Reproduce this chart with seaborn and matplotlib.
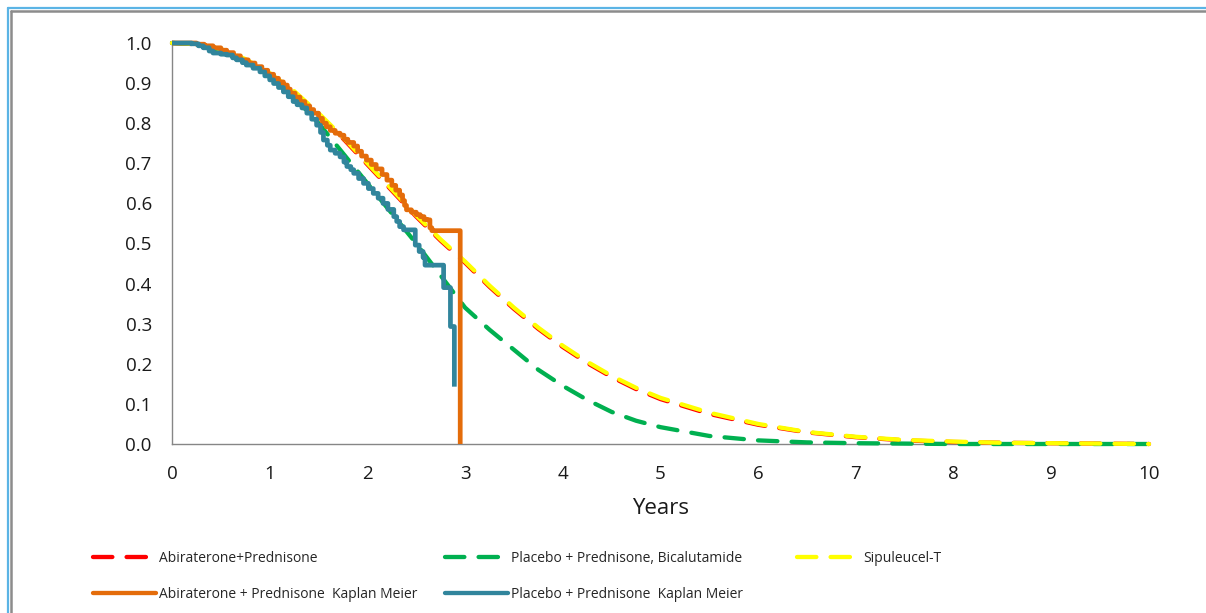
import numpy as np
import pandas as pd
import matplotlib
matplotlib.use("Agg")
import matplotlib.pyplot as plt
from matplotlib.lines import Line2D
import seaborn as sns

# ---------------- data ----------------
model_years = [0.0, 0.25, 0.5, 0.75, 1.0, 1.25, 1.5, 1.75, 2.0, 2.25, 2.5, 2.75,
               3.0, 3.25, 3.5, 3.75, 4.0, 4.25, 4.5, 4.75, 5.0, 5.5, 6.0, 6.5,
               7.0, 7.5, 8.0, 8.5, 9.0, 9.5, 10.0]
abi_model = [1.0, 0.997, 0.984, 0.958, 0.922, 0.877, 0.822, 0.762, 0.697, 0.632,
             0.567, 0.507, 0.452, 0.392, 0.337, 0.287, 0.242, 0.202, 0.167, 0.137,
             0.112, 0.075, 0.048, 0.029, 0.017, 0.009, 0.005, 0.003, 0.002, 0.001, 0.0]
placebo_model = [1.0, 0.997, 0.98, 0.955, 0.915, 0.865, 0.80, 0.725, 0.65, 0.575,
                 0.50, 0.42, 0.34, 0.285, 0.235, 0.185, 0.145, 0.11, 0.08, 0.058,
                 0.042, 0.02, 0.009, 0.004, 0.002, 0.001, 0.0, 0.0, 0.0, 0.0, 0.0]
sipuleucel_model = [1.0, 0.998, 0.985, 0.96, 0.925, 0.88, 0.825, 0.765, 0.70, 0.635,
                    0.57, 0.51, 0.455, 0.395, 0.34, 0.29, 0.245, 0.205, 0.17, 0.14,
                    0.115, 0.078, 0.05, 0.03, 0.018, 0.01, 0.006, 0.003, 0.002, 0.001, 0.0]

abi_km_years = [0.0, 0.25, 0.33, 0.42, 0.50, 0.56, 0.63, 0.70, 0.78, 0.85, 0.92, 0.98,
                1.04, 1.09, 1.14, 1.18, 1.21, 1.26, 1.31, 1.36, 1.41, 1.45, 1.50, 1.54,
                1.58, 1.62, 1.67, 1.72, 1.76, 1.80, 1.86, 1.90, 1.94, 1.99, 2.04, 2.09,
                2.15, 2.20, 2.25, 2.29, 2.33, 2.36, 2.38, 2.40, 2.45, 2.50, 2.54, 2.58,
                2.61, 2.64, 2.66, 2.95]
abi_km = [1.0, 0.997, 0.993, 0.988, 0.982, 0.976, 0.968, 0.958, 0.950, 0.941, 0.932,
          0.922, 0.912, 0.903, 0.895, 0.885, 0.875, 0.865, 0.854, 0.843, 0.834, 0.825,
          0.812, 0.800, 0.791, 0.782, 0.775, 0.770, 0.760, 0.752, 0.743, 0.730, 0.718,
          0.708, 0.697, 0.686, 0.672, 0.658, 0.645, 0.633, 0.621, 0.607, 0.595, 0.584,
          0.578, 0.572, 0.567, 0.560, 0.559, 0.539, 0.532, 0.0]

pla_km_years = [0.0, 0.20, 0.27, 0.32, 0.38, 0.42, 0.50, 0.56, 0.62, 0.66, 0.72, 0.76,
                0.83, 0.90, 0.95, 1.00, 1.04, 1.09, 1.14, 1.19, 1.24, 1.28, 1.33, 1.38,
                1.43, 1.48, 1.52, 1.55, 1.59, 1.62, 1.67, 1.72, 1.76, 1.79, 1.83, 1.86,
                1.91, 1.96, 2.01, 2.06, 2.11, 2.16, 2.21, 2.27, 2.30, 2.33, 2.37, 2.49,
                2.53, 2.57, 2.59, 2.78, 2.85, 2.89]
pla_km = [1.0, 0.998, 0.993, 0.988, 0.980, 0.975, 0.972, 0.970, 0.963, 0.958, 0.951,
          0.945, 0.937, 0.928, 0.918, 0.908, 0.899, 0.889, 0.878, 0.866, 0.854, 0.846,
          0.838, 0.825, 0.810, 0.795, 0.777, 0.758, 0.745, 0.733, 0.725, 0.716, 0.703,
          0.692, 0.684, 0.675, 0.662, 0.650, 0.637, 0.625, 0.613, 0.600, 0.585, 0.567,
          0.555, 0.542, 0.534, 0.496, 0.480, 0.465, 0.446, 0.390, 0.293, 0.143]

labels = ["Abiraterone+Prednisone", "Placebo + Prednisone, Bicalutamide", "Sipuleucel-T",
          "Abiraterone + Prednisone  Kaplan Meier", "Placebo + Prednisone  Kaplan Meier"]
x_ticks = list(range(0, 11))
y_ticks = [0.0, 0.1, 0.2, 0.3, 0.4, 0.5, 0.6, 0.7, 0.8, 0.9, 1.0]

# ---------------- style ----------------
sns.set_style("white")
plt.rcParams["font.family"] = ["Open Sans", "DejaVu Sans"]

RED, GREEN, YELLOW = "#FF0000", "#00B050", "#FFFF00"
ORANGE, TEAL = "#E46C0A", "#31859C"
GREY = "#868686"
DASH = (0, (4.5, 3.3))

W, H = 1206, 613
fig = plt.figure(figsize=(W / 100, H / 100), dpi=100)
fig.patch.set_facecolor("white")
ax = fig.add_axes([172 / W, 1 - 444 / H, (1149 - 172) / W, (444 - 43) / H])

model_df = pd.DataFrame({"years": model_years, "abi": abi_model,
                         "pla": placebo_model, "sip": sipuleucel_model})
abi_df = pd.DataFrame({"years": abi_km_years, "s": abi_km})
pla_df = pd.DataFrame({"years": pla_km_years, "s": pla_km})

common = dict(ax=ax, estimator=None, legend=False, clip_on=False)
dash_kw = dict(lw=3.1, linestyle=DASH, dash_capstyle="round", dash_joinstyle="round")
step_kw = dict(lw=3.4, drawstyle="steps-post", solid_joinstyle="round",
               solid_capstyle="butt", marker="", snap=False)
sns.lineplot(data=model_df, x="years", y="abi", color=RED, zorder=3, **dash_kw, **common)
sns.lineplot(data=model_df, x="years", y="pla", color=GREEN, zorder=3, **dash_kw, **common)
sns.lineplot(data=model_df, x="years", y="sip", color=YELLOW, zorder=4, **dash_kw, **common)
sns.lineplot(data=abi_df, x="years", y="s", color=ORANGE, zorder=5, **step_kw, **common)
sns.lineplot(data=pla_df, x="years", y="s", color=TEAL, zorder=6, **step_kw, **common)

ax.set_xlim(0, 10)
ax.set_ylim(0, 1.0)
ax.set_xticks(x_ticks)
ax.set_xticklabels([str(v) for v in x_ticks])
ax.set_yticks(y_ticks)
ax.set_yticklabels([f"{v:.1f}" for v in y_ticks])
for s in ["top", "right"]:
    ax.spines[s].set_visible(False)
for s in ["left", "bottom"]:
    ax.spines[s].set_color(GREY)
    ax.spines[s].set_linewidth(1.0)
    ax.spines[s].set_zorder(1)
ax.tick_params(axis="both", direction="out", length=6, width=1.0, color=GREY,
               labelsize=13.5, labelcolor="#1a1a1a")
ax.tick_params(axis="y", pad=8.5)
ax.tick_params(axis="x", pad=9)
ax.set_xlabel("Years", fontsize=16, color="#1a1a1a", labelpad=11)
ax.set_ylabel("")

# ---------------- legend (three columns, like the spreadsheet legend) ----------------
def h(color, dashed):
    if dashed:
        return Line2D([], [], color=color, lw=3.1, linestyle=DASH, dash_capstyle="round")
    return Line2D([], [], color=color, lw=3.1)

leg_kw = dict(loc="upper left", frameon=False, fontsize=10, handlelength=4.5,
              handletextpad=0.25, borderpad=0, borderaxespad=0, labelspacing=1.5,
              labelcolor="#262626")
top = 1 - 551 / H
l1 = fig.legend([h(RED, True), h(ORANGE, False)], [labels[0], labels[3]],
                bbox_to_anchor=(93 / W, top), **leg_kw)
l2 = fig.legend([h(GREEN, True), h(TEAL, False)], [labels[1], labels[4]],
                bbox_to_anchor=(445 / W, top), **leg_kw)
l3 = fig.legend([h(YELLOW, True)], [labels[2]],
                bbox_to_anchor=(797 / W, top), **leg_kw)

# ---------------- chart-area frame ----------------
fig.add_artist(Line2D([7.5 / W, 1], [1 - 7.5 / H, 1 - 7.5 / H], color="#5BB4E5", lw=1.6,
                      transform=fig.transFigure))
fig.add_artist(Line2D([7.5 / W, 7.5 / W], [0, 1 - 7.5 / H], color="#5BB4E5", lw=1.6,
                      transform=fig.transFigure))
fig.add_artist(Line2D([10.5 / W, 1], [1 - 10.5 / H, 1 - 10.5 / H], color="#8C8C8C", lw=1.8,
                      transform=fig.transFigure))
fig.add_artist(Line2D([10.5 / W, 10.5 / W], [0, 1 - 10.5 / H], color="#8C8C8C", lw=1.8,
                      transform=fig.transFigure))

fig.savefig("out.png", dpi=100, facecolor="white")
